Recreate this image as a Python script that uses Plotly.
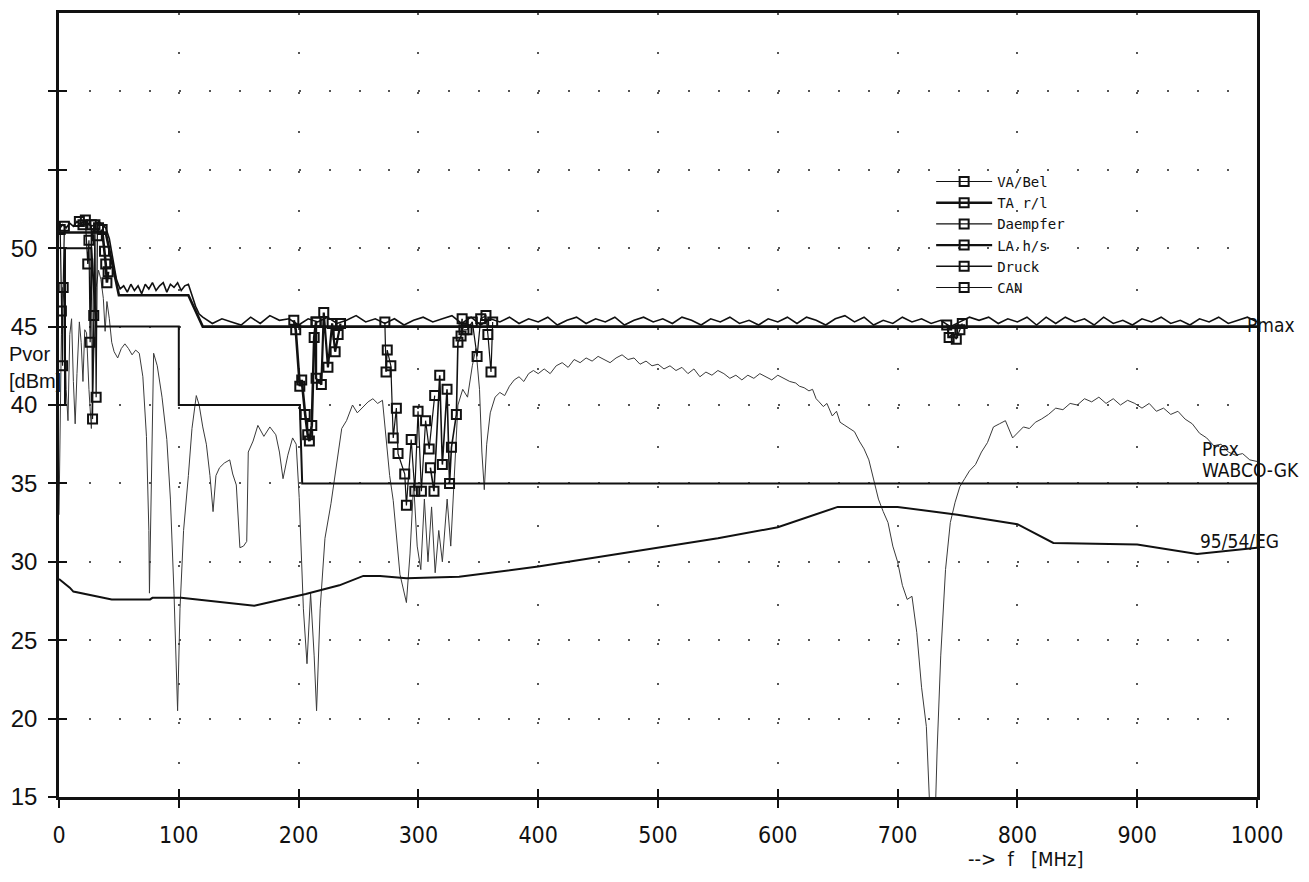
import plotly.graph_objects as go

# ---------------- data ----------------
# limit "Pmax" (thick staircase)
pmax_x = [0, 39, 50, 108, 120, 1000]
pmax_y = [51, 51, 47, 47, 45, 45]

# limit "WABCO-GK"
wabco_x = [0, 5, 5, 27, 31, 100, 100, 201, 203, 1000]
wabco_y = [40, 40, 50, 50, 45, 45, 40, 40, 35, 35]

# limit "95/54/EG"
eg_x = [0, 9, 12, 44, 76, 78, 102, 156, 163, 206, 234, 254, 268, 290, 334, 400, 450, 500, 550, 600, 650, 700, 750, 800, 830, 900, 950, 1000]
eg_y = [28.9, 28.35, 28.1, 27.6, 27.6, 27.7, 27.7, 27.3, 27.2, 27.95, 28.5, 29.1, 29.1, 28.95, 29.05, 29.7, 30.3, 30.9, 31.5, 32.2, 33.5, 33.5, 33.0, 32.4, 31.2, 31.1, 30.5, 30.9]

# measured forward power (noisy, upper curve)
meas_x = [0, 3, 6, 9, 12, 15, 18, 21, 24, 27, 30, 33, 36, 39, 42, 45, 48, 51, 54, 57, 60, 63, 66,
          69, 72, 75, 78, 81, 84, 87, 90, 93, 96, 99, 102, 105, 108, 111, 114, 117,
          120, 128, 136, 144, 152, 160, 168, 176, 184, 192, 200, 208, 216, 224, 232, 240, 248, 256,
          264, 272, 280, 288, 296, 304, 312, 320, 328, 336, 344, 352, 360, 368, 376, 384, 392, 400,
          408, 416, 424, 432, 440, 448, 456, 464, 472, 480, 488, 496, 504, 512, 520, 528, 536, 544,
          552, 560, 568, 576, 584, 592, 600, 608, 616, 624, 632, 640, 648, 656, 664, 672, 680, 688,
          696, 704, 712, 720, 728, 736, 744, 752, 760, 768, 776, 784, 792, 800, 808, 816, 824, 832,
          840, 848, 856, 864, 872, 880, 888, 896, 904, 912, 920, 928, 936, 944, 952, 960, 968, 976,
          984, 992, 1000]
meas_y = [51.2, 51.5, 51.3, 51.6, 51.4, 51.7, 51.5, 51.8, 51.6, 51.4, 51.5, 51.7, 51.5, 51.3, 50.6,
          49.3, 48.0, 47.4, 47.6, 47.2, 47.7, 47.3, 47.6, 47.1, 47.7, 47.4, 47.8, 47.3, 47.6, 47.8,
          47.2, 47.7, 47.5, 47.8, 47.3, 47.6, 47.7, 47.0, 46.3, 45.8,
          45.6, 45.2, 45.5, 45.3, 45.1, 45.6, 45.2, 45.7, 45.4, 45.5, 45.1, 45.5, 45.3, 45.6, 45.2,
          45.4, 45.7, 45.3, 45.5, 45.2, 45.5, 45.1, 45.4, 45.6, 45.3, 45.5, 45.7, 45.2, 45.6, 45.1,
          45.5, 45.3, 45.6, 45.2, 45.5, 45.3, 45.6, 45.1, 45.4, 45.6, 45.2, 45.5, 45.3, 45.6, 45.1,
          45.4, 45.6, 45.3, 45.5, 45.2, 45.6, 45.4, 45.1, 45.5, 45.3, 45.6, 45.2, 45.4, 45.1, 45.5,
          45.3, 45.6, 45.2, 45.6, 45.4, 45.1, 45.5, 45.7, 45.3, 45.6, 45.1, 45.4, 45.2, 45.6, 45.3,
          45.5, 45.2, 45.4, 45.0, 45.3, 45.6, 45.4, 45.6, 45.2, 45.5, 45.3, 45.6, 45.1, 45.6, 45.2,
          45.6, 45.3, 45.5, 45.1, 45.6, 45.2, 45.4, 45.1, 45.5, 45.3, 45.6, 45.2, 45.4, 45.1, 45.5,
          45.3, 45.6, 45.2, 45.4, 45.6, 45.3]

# thin reference curve ("Prex")
prex_x = [0, 1, 2, 3, 4.5, 6, 7.5, 9, 10.5, 12, 13.5, 15, 17, 18.5, 20, 21.5, 23, 25, 27, 29, 31, 33,
          35, 37, 38.5, 40, 42, 44, 46, 49, 52, 55, 58, 61, 64, 67, 70, 73, 75, 75.5, 77.5, 79, 82,
          86, 90, 93, 96, 99, 101, 104, 108, 111, 114.6, 117, 120, 123, 126, 128.6, 131, 134, 138,
          142.5, 145, 148, 151, 154, 156.7, 158, 162, 166, 171, 176, 181, 184, 187, 191, 195, 198,
          200.5, 204, 207, 210, 213, 215, 218, 222, 227, 232, 236, 240, 245, 249, 253, 258, 262, 266,
          270, 273, 276, 279, 284.6, 290, 293, 296, 299, 302, 305, 308, 311, 314, 317, 320, 324, 327,
          330, 333, 337, 341, 345, 348, 351, 353, 355, 357, 360, 364, 368, 372, 376, 380, 384, 388,
          392, 396, 400, 405, 410, 415, 420, 425, 430, 435, 440, 445, 450, 455, 460, 465, 470, 475,
          480, 485, 490, 495, 500, 505, 510, 515, 520, 525, 530, 535, 540, 545, 550, 555, 560, 565,
          570, 575, 580, 585, 590, 595, 600, 605, 610, 615, 618, 622, 626, 629, 632, 634.5, 638, 641,
          645.5, 649, 652, 656, 660, 664, 668, 672, 676, 680, 684, 688, 692, 696, 700, 704, 708, 712,
          716, 720, 724, 727, 730, 733, 736, 740, 744, 748, 752, 756, 760, 765, 770, 775, 780, 785,
          790, 796, 800, 805, 810, 815, 820, 826, 832, 838, 844, 850, 856, 862, 868, 874, 880, 886,
          892, 898, 904, 910, 916, 922, 928, 934, 940, 946, 952, 958, 964, 970, 976, 982, 988, 994,
          1000]
prex_y = [33.0, 40.0, 44.5, 47.5, 46.5, 41.0, 39.0, 44.5, 45.5, 41.5, 38.8, 42.0, 45.3, 44.0, 41.5,
          44.8, 44.6, 41.0, 38.5, 43.0, 47.5, 48.6, 48.0, 46.8, 44.7, 46.6, 45.5, 44.0, 43.4, 43.0,
          43.6, 43.9, 43.6, 43.2, 43.5, 43.3, 41.8, 38.0, 32.0, 28.0, 36.0, 43.3, 42.5, 40.5, 37.8,
          34.0, 28.0, 20.5, 27.0, 32.0, 35.5, 38.5, 40.6, 40.0, 38.6, 37.5, 35.5, 33.2, 35.5, 36.0,
          36.3, 36.5, 35.6, 34.9, 30.9, 31.0, 31.3, 37.0, 37.7, 38.7, 38.0, 38.6, 38.1, 37.0, 35.3,
          36.8, 37.9, 37.5, 34.1, 27.0, 23.5, 28.0, 24.0, 20.5, 27.0, 31.5, 33.7, 36.5, 38.5, 39.0,
          40.0, 39.5, 39.8, 40.2, 40.4, 40.1, 40.3, 37.7, 35.5, 33.9, 29.2, 27.4, 30.5, 35.0, 31.0,
          29.5, 34.0, 30.0, 33.5, 29.3, 32.0, 30.0, 34.0, 31.0, 36.0, 40.0, 41.0, 40.5, 42.5, 43.6,
          41.0, 37.0, 34.6, 37.5, 39.5, 40.5, 40.8, 40.6, 41.2, 41.6, 41.8, 41.5, 42.0, 42.2, 42.0,
          42.3, 42.0, 42.5, 42.7, 42.4, 42.9, 42.7, 43.0, 42.8, 43.1, 42.9, 42.7, 43.0, 43.2, 42.9,
          43.0, 42.6, 42.8, 42.5, 42.6, 42.3, 42.5, 42.2, 42.4, 42.0, 42.3, 41.8, 42.1, 41.9, 42.2,
          42.0, 41.7, 41.9, 41.6, 41.9, 41.7, 42.0, 41.8, 41.6, 41.9, 41.7, 41.5, 41.4, 41.2, 41.1,
          40.9, 41.0, 40.4, 40.2, 39.9, 40.1, 39.3, 39.6, 38.9, 38.7, 38.5, 38.3, 37.7, 37.2, 36.5,
          35.2, 34.0, 33.2, 32.5, 31.0, 30.0, 28.5, 27.6, 27.8, 25.5, 22.0, 19.5, 14.0, 10.0, 18.0,
          24.0, 29.5, 32.5, 33.8, 34.8, 35.3, 35.8, 36.2, 37.0, 37.6, 38.6, 38.8, 39.0, 37.9, 38.2,
          38.6, 38.5, 38.9, 39.1, 39.4, 39.8, 39.7, 40.1, 40.0, 40.4, 40.2, 40.5, 40.1, 40.4, 40.0,
          40.3, 40.1, 39.8, 40.1, 39.6, 39.8, 39.4, 39.6, 39.1, 38.8, 38.2, 37.9, 37.4, 37.5, 37.0,
          36.8, 36.9, 36.5, 36.4]

# failure points (one series per function)
va_x = [1, 2, 3, 3.5, 4.5, None, 17, 20, 22, 24, 25, 26, 27, 28, 29, 30, 31, 32, 33]
va_y = [51.2, 46.0, 42.5, 47.5, 51.4, None, 51.7, 51.5, 51.8, 49.0, 50.5, 44.0, 51.5, 39.1, 45.7, 51.5, 40.5, 50.8, 51.3]
ta_x = [36, 38, 39, 40, 41, None, 196, 197.6, 201, 202.6, 205.5, 207.6, 209, 211, 213, 214.6]
ta_y = [51.2, 49.8, 49.0, 47.8, 48.5, None, 45.4, 44.8, 41.2, 41.6, 39.4, 38.1, 37.7, 38.7, 44.3, 45.3]
dae_x = [272, 273, 274, 277, 279, 281.6, 283, 288.6, 290, 294, 297, 299.7, 302.5, 306, 309, 313.6]
dae_y = [45.3, 42.1, 43.5, 42.5, 37.9, 39.8, 36.9, 35.6, 33.6, 37.8, 34.5, 39.6, 34.5, 39.0, 37.2, 40.6]
la_x = [214.6, 214.6, 219, 221, 224.5, 228, 230.5, 233, 235]
la_y = [45.3, 41.7, 41.3, 45.9, 42.4, 45.2, 43.4, 44.5, 45.2]
dr_x = [310, 313, 317.8, 320, 323.9, 326, 327.6, 331.7, 333, 335.6, 336.5]
dr_y = [36.0, 34.5, 41.9, 36.2, 41.0, 35.0, 37.3, 39.4, 44.0, 44.4, 45.5]
can_x = [338, 340.6, 345, 349, 352, 356.4, 358, 360.6, 362, None, 741, 743, 746, 749, 752, 754]
can_y = [44.8, 44.8, 45.3, 43.1, 45.5, 45.7, 44.5, 42.1, 45.3, None, 45.1, 44.3, 44.6, 44.2, 44.8, 45.2]

y_ticks = [15, 20, 25, 30, 35, 40, 45, 50, 55, 60]
y_ticktext = ["15", "20", "25", "30", "35", "40", "45", "50", "", ""]
x_ticks = [0, 100, 200, 300, 400, 500, 600, 700, 800, 900, 1000]

# ---------------- figure ----------------
fig = go.Figure()
INK = "#111111"

fig.add_trace(go.Scatter(x=prex_x, y=prex_y, mode="lines", line=dict(color="#3a3a3a", width=1),
                         showlegend=False, hoverinfo="skip"))
fig.add_trace(go.Scatter(x=eg_x, y=eg_y, mode="lines", line=dict(color=INK, width=2),
                         showlegend=False))
fig.add_trace(go.Scatter(x=wabco_x, y=wabco_y, mode="lines", line=dict(color=INK, width=2),
                         showlegend=False))
fig.add_trace(go.Scatter(x=meas_x, y=meas_y, mode="lines", line=dict(color=INK, width=1.6),
                         showlegend=False))
# limit line drawn on the overlay axes (identical ranges) so the inner tick marks are drawn
fig.add_trace(go.Scatter(x=pmax_x, y=pmax_y, mode="lines", line=dict(color=INK, width=2.6),
                         showlegend=False, xaxis="x2", yaxis="y2"))

series = [
    ("VA/Bel", va_x, va_y, 1.2),
    ("TA r/l", ta_x, ta_y, 2.6),
    ("Daempfer", dae_x, dae_y, 1.2),
    ("LA h/s", la_x, la_y, 2.2),
    ("Druck", dr_x, dr_y, 1.6),
    ("CAN", can_x, can_y, 1.2),
]
for name, xs, ys, w in series:
    fig.add_trace(go.Scatter(
        x=xs, y=ys, name=name, mode="lines+markers", connectgaps=False,
        line=dict(color=INK, width=w),
        marker=dict(symbol="square-open", size=9, color=INK, line=dict(width=2, color=INK)),
    ))

label_font = dict(family="DejaVu Sans Condensed, sans-serif", size=19, color=INK)
ann = [
    dict(x=990, y=45.1, text="Pmax", xanchor="left", yanchor="middle"),
    dict(x=952, y=37.2, text="Prex", xanchor="left", yanchor="middle"),
    dict(x=952, y=35.85, text="WABCO-GK", xanchor="left", yanchor="middle"),
    dict(x=951, y=31.3, text="95/54/EG", xanchor="left", yanchor="middle"),
]
annotations = []
for a in ann:
    a.update(xref="x", yref="y", showarrow=False, font=label_font)
    annotations.append(a)

side_font = dict(family="Liberation Sans, Arial, sans-serif", size=20, color=INK)
annotations.append(dict(xref="paper", yref="y", x=0, y=43.25, text="Pvor", xanchor="right",
                        yanchor="middle", xshift=-7, showarrow=False, font=side_font))
annotations.append(dict(xref="paper", yref="y", x=0, y=41.5, text="[dBm]", xanchor="right",
                        yanchor="middle", xshift=4, showarrow=False, font=side_font))
annotations.append(dict(xref="paper", yref="paper", x=0.757, y=0, yshift=-62,
                        text="-->\u00a0\u00a0f\u00a0\u00a0\u00a0[MHz]", xanchor="left", yanchor="middle",
                        showarrow=False,
                        font=dict(family="DejaVu Sans Condensed, sans-serif", size=20, color=INK)))

fig.update_layout(
    width=1293, height=866,
    margin=dict(l=51, r=44, t=2, b=77),
    paper_bgcolor="white", plot_bgcolor="white",
    showlegend=True,
    legend=dict(x=0.728, y=0.805, xanchor="left", yanchor="top", bgcolor="rgba(0,0,0,0)",
                font=dict(family="DejaVu Sans Mono, monospace", size=14, color=INK),
                itemwidth=56, tracegroupgap=0),
    annotations=annotations,
    xaxis=dict(range=[0, 1000], showline=True, linecolor=INK, linewidth=2.6, mirror=True,
               tickvals=x_ticks, ticks="outside", ticklen=8, tickwidth=2, tickcolor=INK,
               tickfont=dict(family="DejaVu Sans Condensed, sans-serif", size=23, color=INK),
               ticklabelstandoff=8,
               showgrid=True, gridcolor="#555555", gridwidth=1.6,
               griddash="2px,37.4px", zeroline=False),
    yaxis=dict(range=[15, 65], showline=True, linecolor=INK, linewidth=2.6, mirror=True,
               tickvals=y_ticks, ticktext=y_ticktext, ticks="outside", ticklen=8, tickwidth=2,
               tickcolor=INK, tickfont=dict(family="Liberation Sans, Arial, sans-serif", size=24, color=INK),
               ticklabelstandoff=6,
               showgrid=True, gridcolor="#555555", gridwidth=1.6,
               griddash="2px,27.95px", zeroline=False),
    xaxis2=dict(range=[0, 1000], overlaying="x", anchor="y2", side="bottom", tickvals=x_ticks,
                ticks="inside", ticklen=8, tickwidth=2, tickcolor=INK, showticklabels=False,
                showgrid=False, zeroline=False, showline=False),
    yaxis2=dict(range=[15, 65], overlaying="y", anchor="x2", side="left", tickvals=y_ticks,
                ticks="inside", ticklen=8, tickwidth=2, tickcolor=INK, showticklabels=False,
                showgrid=False, zeroline=False, showline=False),
)

fig.write_html("out.html")
